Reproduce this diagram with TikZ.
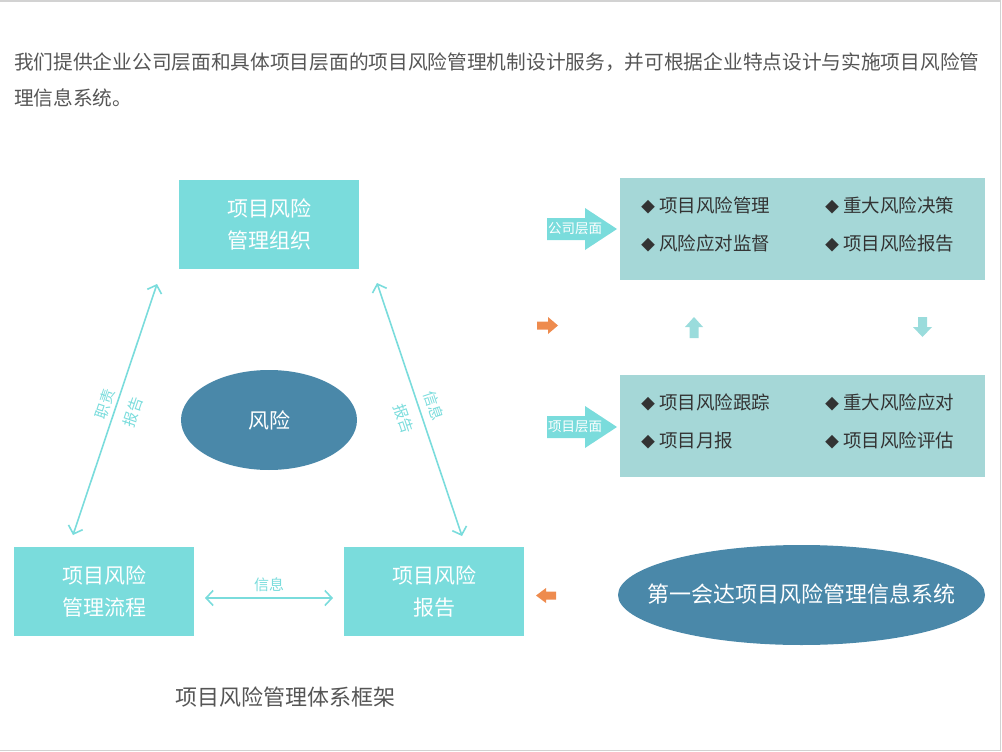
\documentclass[tikz,border=0pt]{standalone}
\usepackage{fontspec}
\setmainfont{Noto Sans CJK SC}
\usetikzlibrary{arrows.meta,shapes.geometric}
\definecolor{boxteal}{HTML}{7ADCDC}
\definecolor{panelteal}{HTML}{A5D7D7}
\definecolor{arrowteal}{HTML}{9ADCDC}
\definecolor{riskblue}{HTML}{4A88A9}
\definecolor{hintorange}{HTML}{EE8B4E}
\definecolor{textgrey}{HTML}{555555}
\newcommand{\bul}{{\fontsize{14}{14}\selectfont ◆}\hspace{4pt}}
\begin{document}
\begin{tikzpicture}[x=1pt, y=-1pt, >={Straight Barb[length=7pt,width=15pt]},
    box/.style={rectangle, fill=boxteal, text=white, minimum width=180pt, minimum height=89pt, align=center, font=\fontsize{21}{32}\selectfont},
    panel/.style={rectangle, fill=panelteal, minimum width=365pt, minimum height=102pt},
    item/.style={anchor=west, inner sep=0pt, text=black!80, font=\fontsize{18.5}{20}\selectfont},
    risk/.style={text=white, inner sep=0pt},
    link/.style={<->, draw=boxteal, line width=1.6pt},
    lbl/.style={text=boxteal, inner sep=0pt, font=\fontsize{15}{16}\selectfont},
    tag/.style={text=white, inner sep=0pt, font=\fontsize{13.5}{14}\selectfont}]
    \useasboundingbox (0,0) rectangle (1002,752);
    \draw[gray!35, line width=1.2pt] (0,1) -- (1000.5,1) -- (1000.5,750.5) -- (0,750.5);
    % intro text
    \node[anchor=west, inner sep=0pt, text=textgrey, font=\fontsize{19.7}{20}\selectfont] (intro1) at (14,62) {我们提供企业公司层面和具体项目层面的项目风险管理机制设计服务，并可根据企业特点设计与实施项目风险管};
    \node[anchor=west, inner sep=0pt, text=textgrey, font=\fontsize{19.7}{20}\selectfont] (intro2) at (14,98) {理信息系统。};
    % left triangle
    \node[box] (org) at (269,224) {项目风险\\管理组织};
    \node[box] (flow) at (104,591.5) {项目风险\\管理流程};
    \node[box] (rep) at (434,591.5) {项目风险\\报告};
    \fill[riskblue] (269,420) ellipse [x radius=88, y radius=50];
    \node[risk, font=\fontsize{21}{22}\selectfont] (risk) at (269,420) {风险};
    \coordinate (orgL) at (157,284);
    \coordinate (flowT) at (73,535);
    \coordinate (orgR) at (377,283);
    \coordinate (repT) at (462,536);
    \coordinate (flowR) at (205,598);
    \coordinate (repL) at (333,598);
    \draw[link] (orgL) -- (flowT);
    \draw[link] (orgR) -- (repT);
    \draw[link] (flowR) -- (repL);
    \node[lbl, rotate=71.5] (duty) at (105,404) {职责};
    \node[lbl, rotate=71.5] (rep1) at (133,412) {报告};
    \node[lbl, rotate=-71.5] (info1) at (434,406) {信息};
    \node[lbl, rotate=-71.5] (rep2) at (404,419) {报告};
    \node[lbl] (info2) at (269,585) {信息};
    \node[text=textgrey, inner sep=0pt, font=\fontsize{22}{24}\selectfont] (title) at (285,697) {项目风险管理体系框架};
    % right side
    \node[panel] (corp) at (802.5,229) {};
    \node[panel] (proj) at (802.5,426) {};
    \node[item] (c1) at (641,205) {\bul 项目风险管理};
    \node[item] (c2) at (825,205) {\bul 重大风险决策};
    \node[item] (c3) at (641,243) {\bul 风险应对监督};
    \node[item] (c4) at (825,243) {\bul 项目风险报告};
    \node[item] (p1) at (641,402) {\bul 项目风险跟踪};
    \node[item] (p2) at (825,402) {\bul 重大风险应对};
    \node[item] (p3) at (641,440) {\bul 项目月报};
    \node[item] (p4) at (825,440) {\bul 项目风险评估};
    \fill[boxteal] (547,218) -- (585,218) -- (585,208) -- (617,229) -- (585,250) -- (585,240) -- (547,240) -- cycle;
    \node[tag] (corptag) at (575,229) {公司层面};
    \fill[boxteal] (547,416) -- (585,416) -- (585,406) -- (617,427) -- (585,448) -- (585,438) -- (547,438) -- cycle;
    \node[tag] (projtag) at (575,427) {项目层面};
    \fill[hintorange] (537,321.5) -- (548,321.5) -- (548,317) -- (558,325.5) -- (548,334) -- (548,329.5) -- (537,329.5) -- cycle;
    \fill[arrowteal] (694,317) -- (703,327) -- (698.5,327) -- (698.5,338) -- (689.5,338) -- (689.5,327) -- (685,327) -- cycle;
    \fill[arrowteal] (922.5,337) -- (932,327) -- (927,327) -- (927,317) -- (918,317) -- (918,327) -- (913,327) -- cycle;
    \fill[hintorange] (536,595.5) -- (546,588) -- (546,591.5) -- (556,591.5) -- (556,599.5) -- (546,599.5) -- (546,603) -- cycle;
    \fill[riskblue] (801.5,595) ellipse [x radius=183.5, y radius=50];
    \node[risk, font=\fontsize{22}{24}\selectfont] (sys) at (801.5,594) {第一会达项目风险管理信息系统};
\end{tikzpicture}
\end{document}
